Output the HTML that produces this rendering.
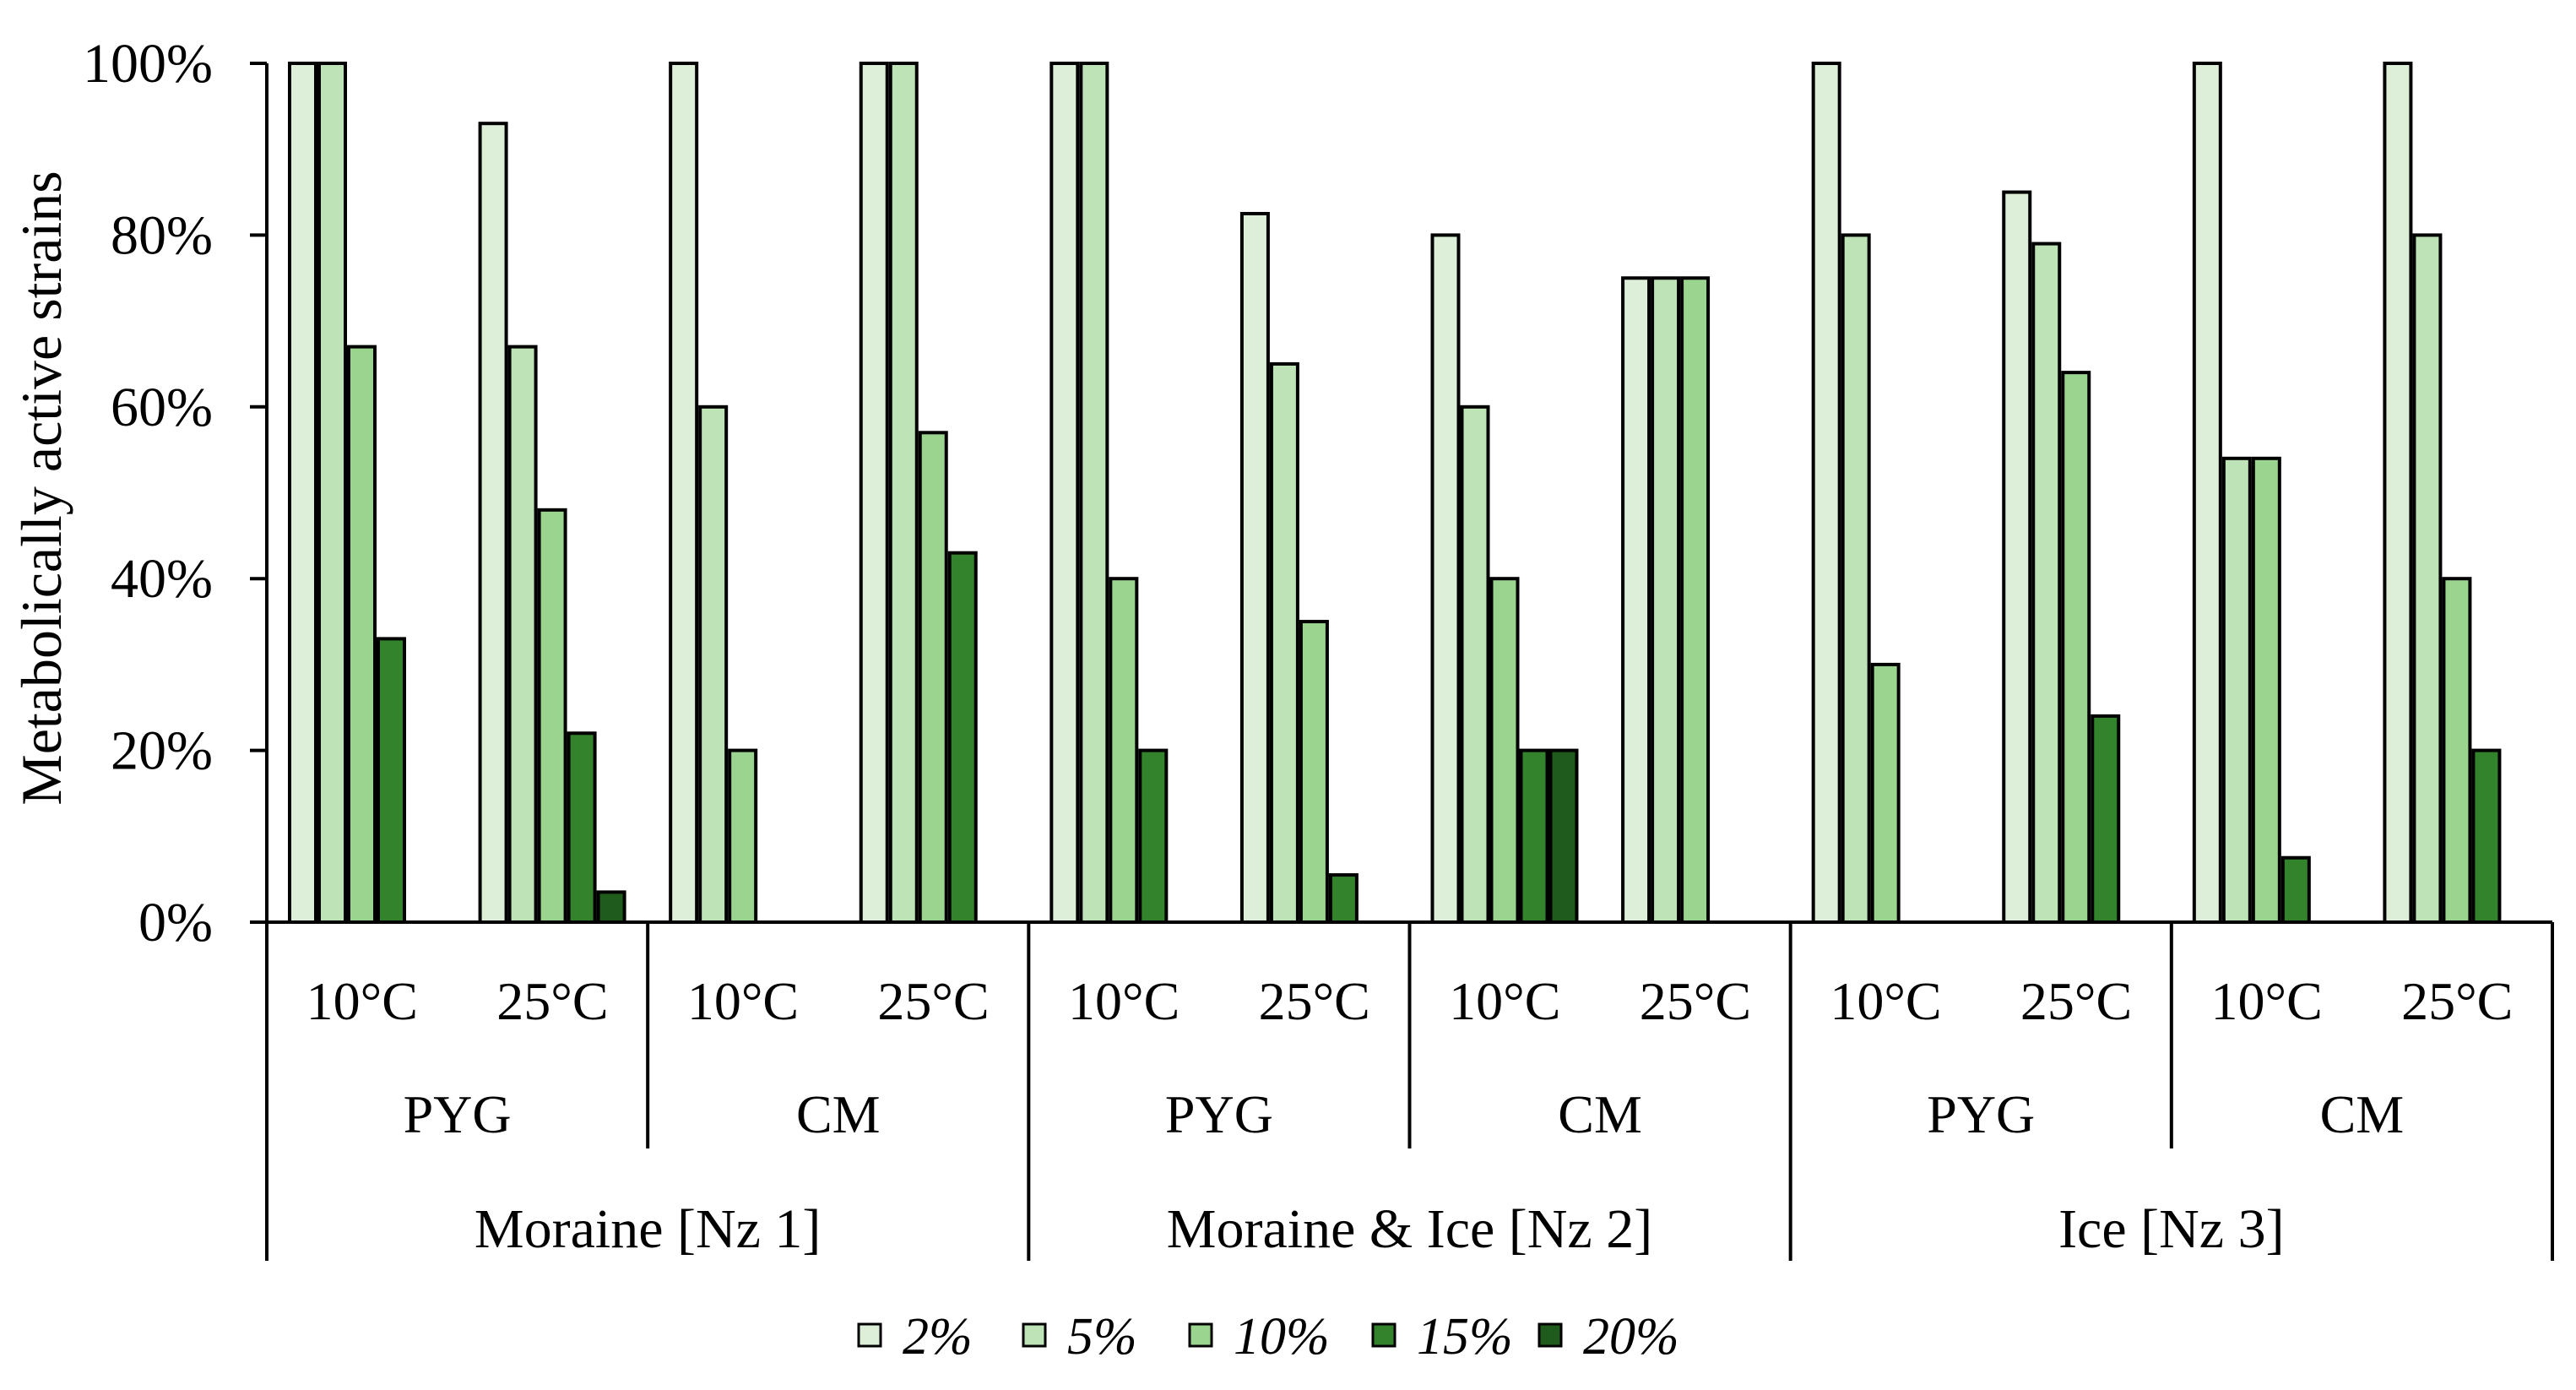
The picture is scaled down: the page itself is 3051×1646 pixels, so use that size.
<!DOCTYPE html>
<html><head><meta charset="utf-8"><style>
html,body{margin:0;padding:0;background:#fff;}
svg text{font-family:"Liberation Serif",serif;fill:#000;}
</style></head><body>
<svg id="chart" width="3051" height="1641" viewBox="0 0 3051 1641" xmlns="http://www.w3.org/2000/svg">
<g id="bars"></g>
<g id="axes"></g>
<g id="legend"></g>
</svg>
<script>
const temps = ["10°C","25°C","10°C","25°C","10°C","25°C","10°C","25°C","10°C","25°C","10°C","25°C"];
const media = ["PYG","CM","PYG","CM","PYG","CM"];
const zones = ["Moraine [Nz 1]","Moraine & Ice [Nz 2]","Ice [Nz 3]"];
const seriesNames = ["2%","5%","10%","15%","20%"];
const s2 = [100,93,100,100,100,82.5,80,75,100,85,100,100];
const s5 = [100,67,60,100,100,65,60,75,80,79,54,80];
const s10 = [67,48,20,57,40,35,40,75,30,64,54,40];
const s15 = [33,22,0,43,20,5.5,20,0,0,24,7.5,20];
const s20 = [0,3.5,0,0,0,0,20,0,0,0,0,0];
const yTicks = [0,20,40,60,80,100];
const colors = ["#ddefd9","#bde3b6","#9bd48e","#32832b","#1f5b1d"];
const series = [s2,s5,s10,s15,s20];
const NS="http://www.w3.org/2000/svg";
const X0=316, X1=3023, Y0=1092, Y100=75;
const catW=(X1-X0)/temps.length;
function yPos(v){return Y0-(Y0-Y100)*v/100;}
function xCat(i){return X0+i*catW;}
function mk(tag,attrs,parent){const e=document.createElementNS(NS,tag);for(const k in attrs)e.setAttribute(k,attrs[k]);parent.appendChild(e);return e;}
const gb=document.getElementById('bars'), ga=document.getElementById('axes'), gl=document.getElementById('legend');
const pitch=35, bw=31;
series.forEach((s,si)=>{
  s.forEach((v,ci)=>{
    if(v<=0) return;
    const x=xCat(ci)+27+si*pitch;
    const r=mk('rect',{x:x,y:yPos(v),width:bw,height:Y0-yPos(v),fill:colors[si],stroke:"#000","stroke-width":4},gb);
    
    
  });
});
let l=mk('line',{x1:X0,y1:Y100,x2:X0,y2:Y0,stroke:"#000","stroke-width":4},ga);


yTicks.forEach(t=>{
  mk('line',{x1:X0-20,y1:yPos(t),x2:X0,y2:yPos(t),stroke:"#000","stroke-width":4},ga);
  const tx=mk('text',{x:252,y:yPos(t)+22,"text-anchor":"end","font-size":66},ga);
  tx.textContent=t+"%";
  
  
});
const yt=mk('text',{x:0,y:0,"text-anchor":"middle","font-size":68,transform:"translate(72,578) rotate(-90)"},ga);
yt.textContent="Metabolically active strains";


l=mk('line',{x1:X0-20,y1:Y0,x2:X1,y2:Y0,stroke:"#000","stroke-width":4},ga);


for(let i=0;i<=temps.length;i+=2){
  const yEnd=(i%4===0)?1493:1360;
  mk('line',{x1:xCat(i),y1:Y0,x2:xCat(i),y2:yEnd,stroke:"#000","stroke-width":4},ga);
}
temps.forEach((t,i)=>{
  const tx=mk('text',{x:xCat(i)+catW/2,y:1207,"text-anchor":"middle","font-size":64},ga);
  tx.textContent=t;
  
  
});
media.forEach((m,i)=>{
  const tx=mk('text',{x:xCat(i*2)+catW,y:1341,"text-anchor":"middle","font-size":64},ga);
  tx.textContent=m;
  
  
});
zones.forEach((z,i)=>{
  const tx=mk('text',{x:xCat(i*4)+catW*2,y:1477,"text-anchor":"middle","font-size":66},ga);
  tx.textContent=z;
  
  
});
const lx=[1017,1212,1409,1626,1823];
seriesNames.forEach((n,i)=>{
  const r=mk('rect',{x:lx[i],y:1568,width:26,height:26,fill:colors[i],stroke:"#000","stroke-width":3},gl);
  
  
  const tx=mk('text',{x:lx[i]+52,y:1603,"font-size":62,"font-style":"italic"},gl);
  tx.textContent=n;
  
  
});
</script>
</body></html>
